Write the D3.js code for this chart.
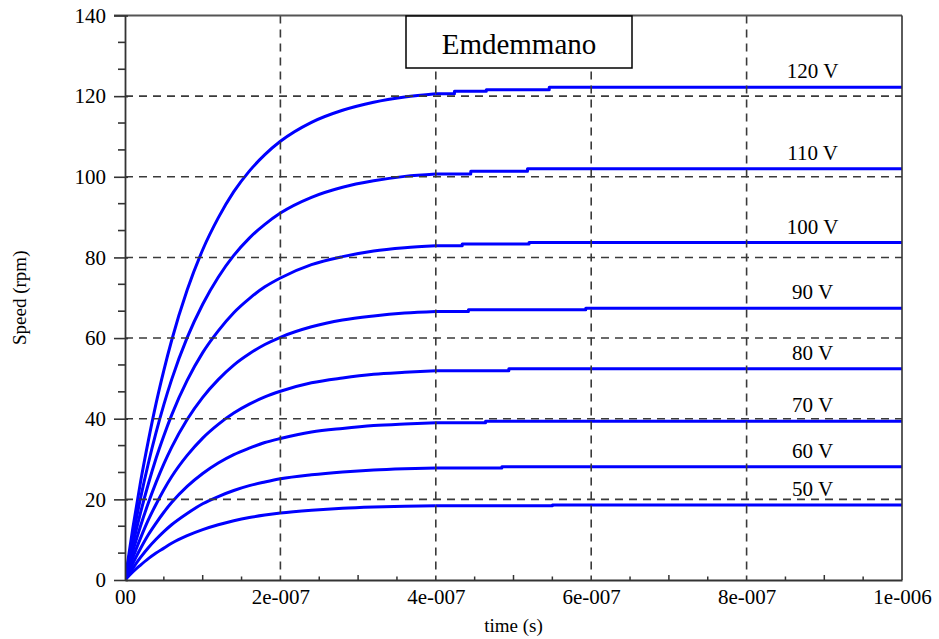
<!DOCTYPE html>
<html>
<head>
<meta charset="utf-8">
<script src="https://cdn.jsdelivr.net/npm/d3@7"></script>
<style>
  html, body { margin: 0; padding: 0; background: #ffffff; }
  svg { display: block; }
  svg text { font-family: "Liberation Serif", "Times New Roman", serif !important; fill: #000; }
</style>
</head>
<body>
<svg id="chart" width="939" height="639" font-family="Liberation Serif, Times New Roman, serif"></svg>
<script>
// Sample times (microseconds) for the rising part of each response
const times = [0, 0.01, 0.02, 0.03, 0.04, 0.05, 0.06, 0.08, 0.1, 0.12, 0.14, 0.16, 0.18, 0.2, 0.24, 0.28, 0.32, 0.36, 0.4];

// Speed (rpm) for each supply voltage at the sample times
const rise120 = [0, 12.8, 24.3, 34.5, 43.8, 52.0, 59.4, 71.9, 81.9, 89.8, 96.3, 101.4, 105.5, 108.8, 113.5, 116.5, 118.5, 119.8, 120.6];
const rise110 = [0, 10.7, 20.3, 28.9, 36.6, 43.5, 49.7, 60.1, 68.4, 75.1, 80.5, 84.8, 88.2, 91.0, 94.9, 97.4, 99.0, 100.1, 100.7];
const rise100 = [0, 8.8, 16.7, 23.8, 30.2, 35.8, 40.9, 49.5, 56.4, 61.8, 66.3, 69.8, 72.7, 74.9, 78.2, 80.2, 81.6, 82.4, 82.9];
const rise90  = [0, 7.1, 13.4, 19.1, 24.2, 28.8, 32.9, 39.8, 45.3, 49.7, 53.3, 56.1, 58.4, 60.2, 62.8, 64.5, 65.5, 66.2, 66.6];
const rise80  = [0, 5.5, 10.4, 14.9, 18.8, 22.4, 25.6, 30.9, 35.2, 38.6, 41.4, 43.6, 45.4, 46.8, 48.9, 50.1, 51.0, 51.5, 51.9];
const rise70  = [0, 4.1, 7.8, 11.2, 14.1, 16.8, 19.2, 23.2, 26.4, 29.0, 31.1, 32.7, 34.1, 35.1, 36.7, 37.6, 38.3, 38.7, 39.0];
const rise60  = [0, 2.9, 5.6, 8.0, 10.1, 12.0, 13.7, 16.5, 18.9, 20.7, 22.2, 23.4, 24.3, 25.1, 26.1, 26.8, 27.3, 27.6, 27.8];
const rise50  = [0, 2.0, 3.7, 5.3, 6.7, 7.9, 9.1, 11.0, 12.5, 13.7, 14.7, 15.5, 16.1, 16.6, 17.3, 17.8, 18.1, 18.3, 18.4];

// Quantised steps on the plateau: [time (us), new speed]
const steps120 = [[0.424, 121.2], [0.465, 121.6], [0.546, 122.2]];
const steps110 = [[0.445, 101.4], [0.518, 102.0]];
const steps100 = [[0.434, 83.3], [0.52, 83.7]];
const steps90  = [[0.442, 67.0], [0.593, 67.4]];
const steps80  = [[0.494, 52.4]];
const steps70  = [[0.464, 39.4]];
const steps60  = [[0.485, 28.1]];
const steps50  = [[0.55, 18.6]];

const seriesLabels = ["120 V", "110 V", "100 V", "90 V", "80 V", "70 V", "60 V", "50 V"];

// Axis ticks
const xTicks = [0, 0.2, 0.4, 0.6, 0.8, 1.0];
const xTickLabels = ["00", "2e-007", "4e-007", "6e-007", "8e-007", "1e-006"];
const yTicks = [0, 20, 40, 60, 80, 100, 120, 140];

const series = [
  { label: seriesLabels[0], rise: rise120, steps: steps120 },
  { label: seriesLabels[1], rise: rise110, steps: steps110 },
  { label: seriesLabels[2], rise: rise100, steps: steps100 },
  { label: seriesLabels[3], rise: rise90,  steps: steps90 },
  { label: seriesLabels[4], rise: rise80,  steps: steps80 },
  { label: seriesLabels[5], rise: rise70,  steps: steps70 },
  { label: seriesLabels[6], rise: rise60,  steps: steps60 },
  { label: seriesLabels[7], rise: rise50,  steps: steps50 }
];

const FONT = "'Liberation Serif', 'Times New Roman', serif";
const svg = d3.select("#chart");
const plot = { left: 125, right: 902, top: 15.5, bottom: 580 };

const x = d3.scaleLinear().domain([0, 1.0]).range([plot.left, plot.right]);
const y = d3.scaleLinear().domain([0, 140]).range([plot.bottom, plot.top]);

svg.append("defs").append("clipPath").attr("id", "plotClip")
  .append("rect")
  .attr("x", plot.left).attr("y", plot.top - 2)
  .attr("width", plot.right - plot.left).attr("height", plot.bottom - plot.top + 2);

// Response curves: smooth rise, then stepped plateau
const riseLine = d3.line().x(d => x(d[0])).y(d => y(d[1])).curve(d3.curveMonotoneX);
const flatLine = d3.line().x(d => x(d[0])).y(d => y(d[1]));

function risePoints(s) {
  return times.map((t, i) => [t, s.rise[i]]);
}
function plateauPoints(s) {
  const n = times.length - 1;
  let v = s.rise[n];
  const pts = [[times[n], v]];
  s.steps.forEach(([t, nv]) => { pts.push([t, v]); pts.push([t, nv]); v = nv; });
  pts.push([1.0, v]);
  return pts;
}
function finalValue(s) {
  return s.steps.length ? s.steps[s.steps.length - 1][1] : s.rise[s.rise.length - 1];
}

const curves = svg.append("g").attr("clip-path", "url(#plotClip)")
  .attr("fill", "none").attr("stroke", "#0000ff")
  .attr("stroke-width", 3).attr("stroke-linejoin", "round");
series.forEach(s => {
  curves.append("path").datum(risePoints(s)).attr("d", riseLine);
  curves.append("path").datum(plateauPoints(s)).attr("d", flatLine);
});

// Dashed grid drawn over the curves
const grid = svg.append("g")
  .attr("stroke", "#3a3a3a")
  .attr("stroke-width", 1.6)
  .attr("stroke-dasharray", "8,6");
yTicks.filter(v => v > 0 && v < 140).forEach(v => {
  grid.append("line")
    .attr("x1", plot.left).attr("x2", plot.right)
    .attr("y1", y(v)).attr("y2", y(v));
});
xTicks.filter(v => v > 0 && v < 1.0).forEach(v => {
  grid.append("line")
    .attr("x1", x(v)).attr("x2", x(v))
    .attr("y1", plot.top).attr("y2", plot.bottom);
});

// Frame
const frame = svg.append("g").attr("fill", "none");
frame.append("line").attr("x1", plot.left - 11).attr("x2", plot.right)
  .attr("y1", plot.top).attr("y2", plot.top)
  .attr("stroke", "#555").attr("stroke-width", 2);
frame.append("line").attr("x1", plot.right).attr("x2", plot.right)
  .attr("y1", plot.top).attr("y2", plot.bottom)
  .attr("stroke", "#333").attr("stroke-width", 1.6);

// Y axis
const yAxis = svg.append("g")
  .attr("transform", `translate(${plot.left},0)`)
  .call(d3.axisLeft(y).tickValues(yTicks).tickSizeInner(11).tickSizeOuter(0).tickPadding(8));
yAxis.attr("font-family", FONT).attr("font-size", 21);
yAxis.select(".domain").attr("stroke", "#333").attr("stroke-width", 1.8);
yAxis.selectAll(".tick line").attr("x1", 3).attr("stroke", "#333").attr("stroke-width", 1.6);
yAxis.selectAll(".tick text").attr("fill", "#000");

// Minor y ticks (two per interval)
const yMinor = d3.range(0, 140, 20).flatMap(v => [v + 20 / 3, v + 40 / 3]);
svg.append("g").selectAll("line").data(yMinor).join("line")
  .attr("x1", plot.left - 7).attr("x2", plot.left)
  .attr("y1", d => y(d)).attr("y2", d => y(d))
  .attr("stroke", "#333").attr("stroke-width", 1.6);

// X axis
const xAxis = svg.append("g")
  .attr("transform", `translate(0,${plot.bottom})`)
  .call(d3.axisBottom(x).tickValues(xTicks).tickSize(0).tickPadding(9)
    .tickFormat((d, i) => xTickLabels[i]));
xAxis.attr("font-family", FONT).attr("font-size", 21);
xAxis.select(".domain").attr("stroke", "#333").attr("stroke-width", 1.8);
xAxis.selectAll(".tick text").attr("fill", "#000");

// Minor x ticks pointing into the plot
const xMinor = d3.range(0.05, 1.0, 0.05).filter(v => Math.abs(v * 5 - Math.round(v * 5)) > 1e-6);
svg.append("g").selectAll("line").data(xMinor).join("line")
  .attr("x1", d => x(d)).attr("x2", d => x(d))
  .attr("y1", plot.bottom).attr("y2", d => plot.bottom - (Math.abs(d * 10 - Math.round(d * 10)) < 1e-6 ? 5 : 3.5))
  .attr("stroke", "#333").attr("stroke-width", 1.5);

// Axis titles
svg.append("text")
  .attr("x", (plot.left + plot.right) / 2).attr("y", 632)
  .attr("text-anchor", "middle").attr("font-family", FONT).attr("font-size", 19)
  .text("time (s)");
svg.append("text")
  .attr("transform", `translate(26,${(plot.top + plot.bottom) / 2}) rotate(-90)`)
  .attr("text-anchor", "middle").attr("font-family", FONT).attr("font-size", 19)
  .text("Speed (rpm)");

// Series labels above the plateaus
const labelT = 0.885;
series.forEach(s => {
  svg.append("text")
    .attr("x", x(labelT)).attr("y", y(finalValue(s)) - 9)
    .attr("text-anchor", "middle").attr("font-family", FONT).attr("font-size", 21)
    .text(s.label);
});

// Title box
const titleBox = svg.append("g");
titleBox.append("rect")
  .attr("x", 406).attr("y", 16).attr("width", 226).attr("height", 52)
  .attr("fill", "#fff").attr("stroke", "#000").attr("stroke-width", 1.5);
titleBox.append("text")
  .attr("x", 519).attr("y", 54).attr("text-anchor", "middle")
  .attr("font-family", FONT).attr("font-size", 29)
  .text("Emdemmano");
</script>
</body>
</html>
